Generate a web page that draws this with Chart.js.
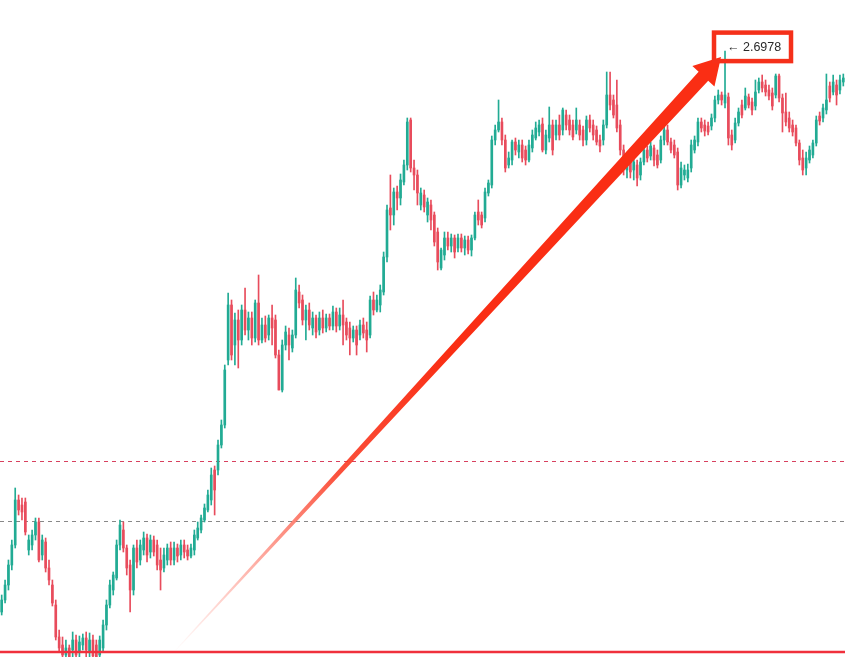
<!DOCTYPE html>
<html>
<head>
<meta charset="utf-8">
<script src="https://cdn.jsdelivr.net/npm/chart.js@4"></script>
<style>
  body { margin: 0; background: #ffffff; }
  canvas { display: block; }
</style>
</head>
<body>
<canvas id="myChart" width="845" height="657"></canvas>
<script>
// OHLC values, one entry per candle
var opens = [
  1.576,1.600,1.630,1.670,1.710,1.800,1.790,1.796,1.700,1.710,
  1.730,1.756,1.690,1.716,1.664,1.630,1.590,1.526,1.510,1.490,
  1.504,1.500,1.520,1.496,1.510,1.524,1.496,1.520,1.510,1.490,
  1.504,1.550,1.590,1.620,1.644,1.710,1.740,1.704,1.670,1.620,
  1.704,1.680,1.700,1.724,1.696,1.720,1.710,1.680,1.664,1.680,
  1.704,1.680,1.704,1.690,1.710,1.700,1.688,1.700,1.724,1.740,
  1.760,1.780,1.800,1.860,1.860,1.910,1.950,2.080,2.190,2.110,
  2.160,2.120,2.180,2.140,2.164,2.124,2.194,2.120,2.150,2.130,
  2.164,2.160,2.090,2.020,2.110,2.130,2.104,2.130,2.216,2.200,
  2.160,2.180,2.144,2.164,2.140,2.164,2.144,2.164,2.148,2.176,
  2.148,2.170,2.156,2.144,2.124,2.140,2.130,2.150,2.140,2.130,
  2.200,2.180,2.190,2.216,2.286,2.384,2.370,2.416,2.404,2.436,
  2.470,2.560,2.464,2.450,2.390,2.410,2.370,2.390,2.370,2.336,
  2.264,2.290,2.324,2.308,2.324,2.304,2.324,2.304,2.320,2.300,
  2.324,2.376,2.370,2.364,2.414,2.430,2.520,2.540,2.556,2.520,
  2.470,2.480,2.516,2.496,2.510,2.500,2.480,2.504,2.524,2.536,
  2.552,2.500,2.524,2.550,2.530,2.550,2.540,2.570,2.560,2.550,
  2.540,2.550,2.540,2.520,2.560,2.550,2.540,2.520,2.520,2.550,
  2.610,2.600,2.590,2.550,2.500,2.460,2.480,2.460,2.470,2.450,
  2.476,2.500,2.488,2.504,2.490,2.480,2.520,2.540,2.516,2.510,
  2.496,2.430,2.450,2.444,2.464,2.500,2.516,2.556,2.550,2.548,
  2.548,2.564,2.600,2.610,2.594,2.606,2.530,2.520,2.554,2.590,
  2.584,2.606,2.596,2.588,2.620,2.636,2.630,2.620,2.614,2.610,
  2.648,2.604,2.576,2.564,2.550,2.544,2.514,2.484,2.464,2.480,
  2.490,2.514,2.568,2.564,2.580,2.628,2.616,2.630,2.620,2.636
];
var highs = [
  1.610,1.640,1.680,1.720,1.824,1.810,1.804,1.804,1.730,1.740,
  1.764,1.764,1.730,1.724,1.680,1.640,1.600,1.540,1.526,1.520,
  1.510,1.536,1.530,1.528,1.532,1.536,1.534,1.530,1.520,1.528,
  1.560,1.600,1.640,1.656,1.720,1.760,1.756,1.710,1.680,1.710,
  1.720,1.720,1.736,1.732,1.730,1.728,1.720,1.704,1.704,1.712,
  1.716,1.716,1.712,1.720,1.720,1.710,1.712,1.740,1.756,1.770,
  1.792,1.820,1.864,1.868,1.920,1.960,2.070,2.214,2.200,2.174,
  2.180,2.190,2.224,2.176,2.176,2.200,2.250,2.164,2.168,2.170,
  2.190,2.170,2.100,2.120,2.148,2.144,2.140,2.244,2.230,2.210,
  2.190,2.194,2.176,2.170,2.176,2.180,2.172,2.172,2.188,2.184,
  2.184,2.200,2.164,2.156,2.148,2.148,2.160,2.164,2.156,2.208,
  2.216,2.210,2.230,2.296,2.390,2.450,2.424,2.428,2.452,2.480,
  2.564,2.564,2.480,2.460,2.424,2.420,2.404,2.400,2.376,2.344,
  2.304,2.336,2.336,2.332,2.330,2.332,2.332,2.328,2.328,2.330,
  2.376,2.400,2.376,2.424,2.440,2.528,2.550,2.600,2.564,2.530,
  2.496,2.520,2.524,2.520,2.520,2.508,2.520,2.540,2.556,2.560,
  2.564,2.540,2.586,2.560,2.560,2.570,2.584,2.580,2.570,2.560,
  2.584,2.560,2.548,2.568,2.570,2.560,2.548,2.530,2.560,2.656,
  2.656,2.610,2.640,2.560,2.510,2.490,2.490,2.490,2.480,2.484,
  2.508,2.508,2.516,2.510,2.500,2.528,2.548,2.550,2.524,2.520,
  2.504,2.476,2.470,2.472,2.520,2.528,2.564,2.564,2.560,2.556,
  2.572,2.608,2.620,2.616,2.6978,2.614,2.540,2.564,2.584,2.600,
  2.624,2.612,2.604,2.640,2.644,2.650,2.640,2.630,2.624,2.652,
  2.652,2.612,2.614,2.576,2.560,2.550,2.520,2.500,2.496,2.508,
  2.520,2.568,2.576,2.592,2.652,2.636,2.650,2.640,2.650,2.652
];
var lows = [
  1.570,1.594,1.620,1.660,1.704,1.770,1.760,1.730,1.690,1.700,
  1.720,1.676,1.680,1.656,1.630,1.588,1.520,1.496,1.486,1.486,
  1.486,1.486,1.486,1.486,1.500,1.486,1.486,1.486,1.486,1.486,
  1.496,1.540,1.584,1.610,1.640,1.700,1.696,1.650,1.576,1.610,
  1.664,1.670,1.690,1.676,1.684,1.688,1.660,1.620,1.656,1.670,
  1.670,1.670,1.676,1.680,1.684,1.680,1.684,1.690,1.720,1.734,
  1.756,1.776,1.790,1.770,1.850,1.904,1.944,2.070,2.080,2.070,
  2.064,2.110,2.130,2.120,2.110,2.116,2.110,2.114,2.116,2.120,
  2.110,2.084,2.020,2.016,2.100,2.080,2.096,2.124,2.184,2.150,
  2.120,2.140,2.130,2.124,2.130,2.134,2.136,2.140,2.140,2.136,
  2.140,2.110,2.120,2.090,2.116,2.090,2.120,2.124,2.096,2.124,
  2.170,2.176,2.176,2.210,2.276,2.340,2.350,2.380,2.390,2.430,
  2.460,2.456,2.420,2.390,2.380,2.376,2.356,2.340,2.308,2.260,
  2.260,2.280,2.300,2.296,2.284,2.296,2.296,2.290,2.292,2.288,
  2.320,2.350,2.344,2.356,2.408,2.424,2.510,2.536,2.510,2.456,
  2.464,2.470,2.490,2.484,2.476,2.470,2.476,2.496,2.520,2.528,
  2.496,2.492,2.516,2.490,2.520,2.520,2.530,2.540,2.530,2.520,
  2.532,2.520,2.508,2.510,2.536,2.520,2.510,2.496,2.510,2.544,
  2.580,2.564,2.536,2.490,2.450,2.444,2.444,2.440,2.428,2.440,
  2.470,2.476,2.480,2.468,2.464,2.474,2.510,2.510,2.494,2.484,
  2.420,2.424,2.440,2.436,2.456,2.494,2.508,2.536,2.528,2.530,
  2.540,2.556,2.592,2.590,2.584,2.510,2.500,2.514,2.548,2.564,
  2.580,2.584,2.570,2.580,2.614,2.616,2.608,2.600,2.580,2.604,
  2.596,2.536,2.548,2.536,2.528,2.508,2.470,2.450,2.450,2.474,
  2.484,2.508,2.550,2.556,2.572,2.596,2.610,2.590,2.612,2.628
];
var closes = [
  1.600,1.630,1.670,1.710,1.800,1.780,1.776,1.736,1.720,1.730,
  1.756,1.680,1.720,1.664,1.640,1.594,1.526,1.504,1.490,1.504,
  1.486,1.520,1.490,1.516,1.524,1.500,1.520,1.488,1.486,1.520,
  1.550,1.590,1.630,1.650,1.710,1.750,1.704,1.664,1.620,1.704,
  1.676,1.710,1.724,1.690,1.720,1.696,1.670,1.660,1.690,1.704,
  1.680,1.704,1.688,1.710,1.696,1.688,1.704,1.730,1.744,1.764,
  1.784,1.810,1.850,1.820,1.910,1.950,2.060,2.190,2.090,2.160,
  2.120,2.180,2.140,2.164,2.124,2.194,2.120,2.150,2.124,2.164,
  2.144,2.090,2.020,2.110,2.136,2.110,2.130,2.220,2.194,2.160,
  2.180,2.150,2.164,2.136,2.164,2.144,2.164,2.148,2.176,2.148,
  2.170,2.150,2.130,2.124,2.140,2.110,2.150,2.134,2.120,2.200,
  2.180,2.200,2.220,2.286,2.380,2.370,2.416,2.404,2.440,2.470,
  2.556,2.464,2.450,2.414,2.414,2.386,2.396,2.360,2.316,2.276,
  2.300,2.324,2.308,2.324,2.296,2.324,2.304,2.320,2.300,2.324,
  2.370,2.360,2.350,2.416,2.434,2.520,2.540,2.556,2.520,2.464,
  2.484,2.516,2.500,2.510,2.484,2.480,2.510,2.530,2.544,2.550,
  2.500,2.530,2.550,2.500,2.550,2.530,2.580,2.550,2.540,2.526,
  2.560,2.530,2.520,2.560,2.544,2.530,2.516,2.508,2.550,2.610,
  2.590,2.570,2.544,2.500,2.466,2.480,2.456,2.476,2.444,2.476,
  2.500,2.484,2.508,2.480,2.470,2.520,2.540,2.516,2.500,2.490,
  2.430,2.464,2.460,2.460,2.510,2.520,2.556,2.544,2.538,2.536,
  2.564,2.600,2.610,2.600,2.610,2.524,2.510,2.554,2.576,2.570,
  2.608,2.590,2.580,2.616,2.636,2.624,2.616,2.608,2.588,2.648,
  2.604,2.574,2.556,2.544,2.536,2.514,2.480,2.460,2.484,2.500,
  2.514,2.560,2.558,2.584,2.600,2.604,2.636,2.610,2.640,2.644
];

// price levels drawn across the chart
var supportLevel = 1.496;
var redDashLevel = 1.878;
var greyDashLevel = 1.758;
var peakIndex = 214;
var arrowFrom = 51;      // candle where the big arrow starts

var upColor = "#22ab94";
var downColor = "#e84c5c";

var labels = opens.map(function(v, i) { return i; });
var wicks = lows.map(function(l, i) { return [l, highs[i]]; });
var bodies = opens.map(function(o, i) { return [o, closes[i]]; });
var candleColors = opens.map(function(o, i) { return closes[i] >= o ? upColor : downColor; });

var levelsPlugin = {
  id: 'levels',
  beforeDatasetsDraw: function(chart) {
    var c = chart.ctx, a = chart.chartArea, y = chart.scales.y;
    c.save();
    c.lineWidth = 1;
    c.setLineDash([4, 4]);
    c.strokeStyle = "#d8415e";
    var yr = Math.round(y.getPixelForValue(redDashLevel)) + 0.5;
    c.beginPath(); c.moveTo(a.left, yr); c.lineTo(a.right, yr); c.stroke();
    c.strokeStyle = "#888888";
    var yg = Math.round(y.getPixelForValue(greyDashLevel)) + 0.5;
    c.beginPath(); c.moveTo(a.left, yg); c.lineTo(a.right, yg); c.stroke();
    c.restore();
  },
  afterDatasetsDraw: function(chart) {
    var c = chart.ctx, a = chart.chartArea, x = chart.scales.x, y = chart.scales.y;
    c.save();
    // support line
    var ys = y.getPixelForValue(supportLevel);
    c.strokeStyle = "#f0303c";
    c.lineWidth = 2.5;
    c.beginPath(); c.moveTo(a.left, ys); c.lineTo(a.right, ys); c.stroke();

    // big arrow to the peak
    var sx = x.getPixelForValue(arrowFrom), sy = ys;
    var tx = x.getPixelForValue(peakIndex) - 4, ty = y.getPixelForValue(highs[peakIndex]) + 6;
    var len = Math.hypot(tx - sx, ty - sy);
    var dx = (tx - sx) / len, dy = (ty - sy) / len;
    var nx = -dy, ny = dx;
    var headL = 26, headW = 15;
    var bx = tx - dx * headL, by = ty - dy * headL;
    var grad = c.createLinearGradient(sx, sy, tx, ty);
    grad.addColorStop(0, "rgba(255,80,60,0)");
    grad.addColorStop(0.3, "rgba(250,50,25,0.85)");
    grad.addColorStop(0.5, "#fa2e14");
    grad.addColorStop(1, "#fa2e14");
    c.fillStyle = grad;
    c.beginPath();
    c.moveTo(sx + nx * 0.5, sy + ny * 0.5);
    c.lineTo(bx + nx * 6.5, by + ny * 6.5);
    c.lineTo(bx + nx * headW, by + ny * headW);
    c.lineTo(tx, ty);
    c.lineTo(bx - nx * headW, by - ny * headW);
    c.lineTo(bx - nx * 6.5, by - ny * 6.5);
    c.lineTo(sx - nx * 0.5, sy - ny * 0.5);
    c.closePath();
    c.fill();

    // price label in a box
    var px = x.getPixelForValue(peakIndex), py = y.getPixelForValue(highs[peakIndex]);
    c.strokeStyle = "#f5301a";
    c.lineWidth = 4.5;
    c.strokeRect(px - 11, py - 18.5, 77, 28.5);
    c.fillStyle = "#2a2a2a";
    c.font = '12.5px "Liberation Sans", Arial, sans-serif';
    c.textBaseline = "middle";
    c.fillText("\u2190 " + highs[peakIndex].toFixed(4), px + 2, py - 4);
    c.restore();
  }
};

const ctx = document.getElementById('myChart');

new Chart(ctx, {
  type: 'bar',
  data: {
    labels: labels,
    datasets: [{
      label: 'wick',
      data: wicks,
      backgroundColor: candleColors,
      barThickness: 1,
      grouped: false
    }, {
      label: 'body',
      data: bodies,
      backgroundColor: candleColors,
      barThickness: 2,
      minBarLength: 1,
      grouped: false
    }]
  },
  options: {
    responsive: false,
    animation: false,
    layout: { padding: 0 },
    plugins: {
      legend: { display: false },
      tooltip: { enabled: false }
    },
    scales: {
      x: { display: false, offset: true },
      y: { display: false, min: 1.486, max: 2.8 }
    }
  },
  plugins: [levelsPlugin]
});
</script>
</body>
</html>
